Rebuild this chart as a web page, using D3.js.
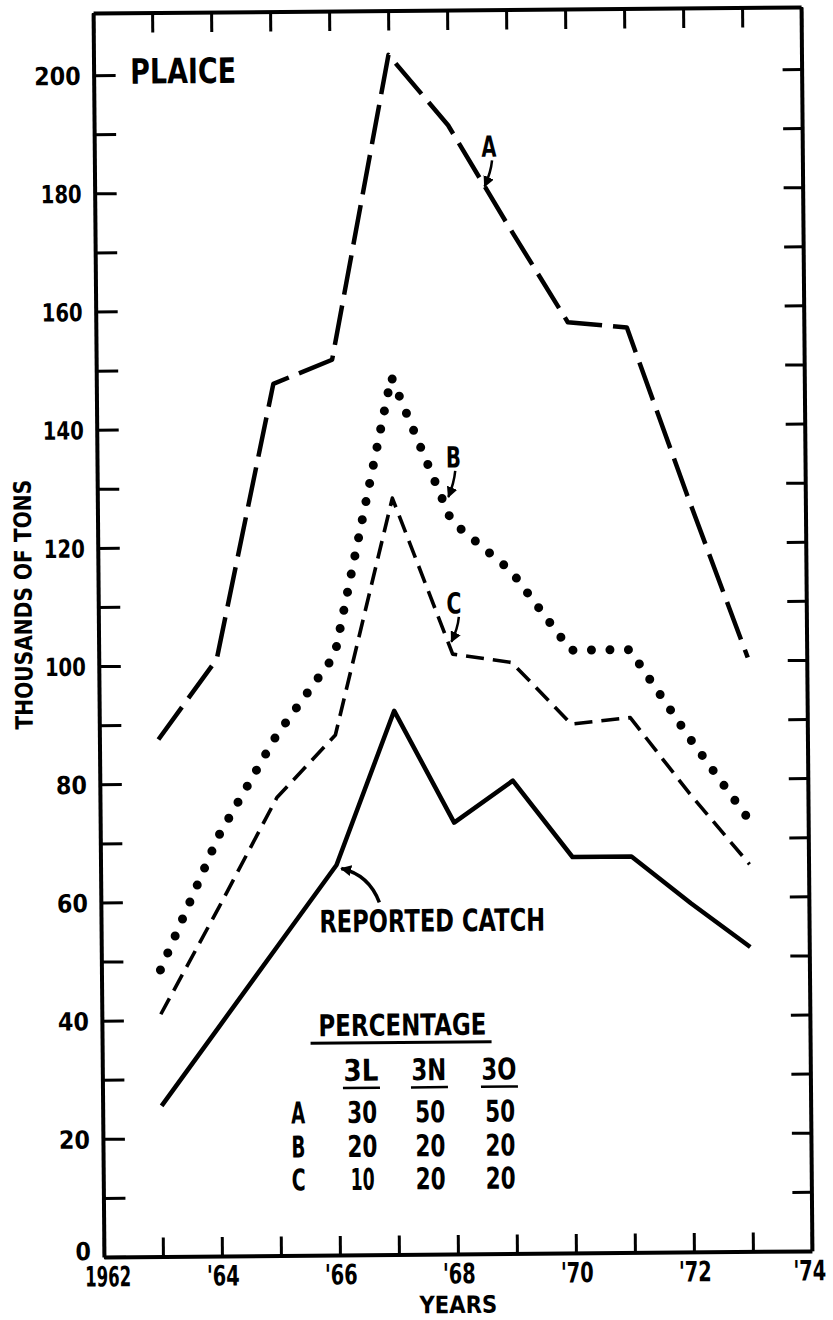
<!DOCTYPE html>
<html>
<head>
<meta charset="utf-8">
<script src="https://cdn.jsdelivr.net/npm/d3@7"></script>
<style>
  body { margin: 0; background: #fff; }
  text { font-family: "DejaVu Sans", "Liberation Sans", sans-serif; font-weight: bold; fill: #000; }
</style>
</head>
<body>
<svg id="chart" width="833" height="1320"></svg>
<script>
// Plaice catch estimates, thousands of tons, 1963-1973
const years = [1963, 1964, 1965, 1966, 1967, 1968, 1969, 1970, 1971, 1972, 1973];
const seriesA = [87.5, 101, 147.5, 151.5, 203, 191, 174, 157.5, 156.5, 128, 100.5];
const seriesB = [48.5, 71, 88, 101.5, 148.5, 124, 115.5, 102, 102, 87, 73];
const seriesC = [41, 59, 77.5, 88, 128, 101.5, 100, 89.5, 90.5, 77.5, 65.5];
const reportedCatch = [25.5, 39, 52.5, 66, 92, 73, 80, 67, 67, 59, 51.5];

const yTicks = [0, 10, 20, 30, 40, 50, 60, 70, 80, 90, 100, 110, 120, 130, 140, 150, 160, 170, 180, 190, 200];
const xTicks = [1962, 1963, 1964, 1965, 1966, 1967, 1968, 1969, 1970, 1971, 1972, 1973, 1974];
const xTickLabels = {1962: "1962", 1964: "'64", 1966: "'66", 1968: "'68", 1970: "'70", 1972: "'72", 1974: "'74"};

// percentage table
const legendCols = ["3L", "3N", "3O"];
const legendRows = ["A", "B", "C"];
const pctA = [30, 50, 50];
const pctB = [20, 20, 20];
const pctC = [10, 20, 20];

// the original lettering is narrow: squeeze a text sideways to the width it has there
function squeeze(sel, w) {
  sel.each(function() {
    const el = d3.select(this);
    const s = w / this.getComputedTextLength();
    const cx = +el.attr("x") || 0;
    const prev = el.attr("transform") || "";
    el.attr("transform", prev + " translate(" + cx + ",0) scale(" + s + ",1) translate(" + (-cx) + ",0)");
  });
}
function digitWidth(s, wide, narrow) {
  let w = 0;
  String(s).split("").forEach(function(ch) { w += (ch === "1" || ch === "'") ? narrow : wide; });
  return w;
}

const svg = d3.select("#chart");
// the scanned figure sits a little off square, so turn the whole drawing slightly
const g = svg.append("g").attr("transform", "rotate(-0.5 452 632)");

const x = d3.scaleLinear().domain([1962, 1974]).range([98.5, 806.5]);
const y = d3.scaleLinear().domain([0, 210.5]).range([1254, 10]);

// frame and ticks (all ticks point inward)
function styleAxis(sel) {
  sel.select(".domain").attr("stroke", "#000").attr("stroke-width", 4);
  sel.selectAll(".tick line").attr("stroke", "#000").attr("stroke-width", 3);
}

g.append("g")
  .attr("transform", "translate(" + x(1962) + ",0)")
  .call(d3.axisLeft(y).tickValues(yTicks).tickSize(-22).tickSizeOuter(0).tickPadding(13)
    .tickFormat(d => d % 20 === 0 ? d : ""))
  .call(styleAxis)
  .selectAll(".tick text")
    .filter(d => d % 20 === 0)
    .style("font-size", "25px")
    .attr("dy", d => d === 0 ? "0.1em" : "0.36em")
    .each(function(d) { d3.select(this).call(squeeze, digitWidth(d, 15.5, 10)); });

g.append("g")
  .attr("transform", "translate(" + x(1974) + ",0)")
  .call(d3.axisRight(y).tickValues(yTicks).tickSize(-19).tickSizeOuter(0).tickFormat(""))
  .call(styleAxis);

g.append("g")
  .attr("transform", "translate(0," + y(0) + ")")
  .call(d3.axisBottom(x).tickValues(xTicks).tickSize(-19).tickSizeOuter(0).tickPadding(7)
    .tickFormat(d => xTickLabels[d] || ""))
  .call(styleAxis)
  .selectAll(".tick text")
    .filter(d => xTickLabels[d])
    .style("font-size", "28px")
    .attr("dy", "0.8em")
    .attr("dx", d => d === 1962 ? 6 : (d === 1974 ? -4 : 1))
    .each(function(d) { d3.select(this).call(squeeze, digitWidth(xTickLabels[d], 13, 7)); });

g.append("g")
  .attr("transform", "translate(0," + y(210.5) + ")")
  .call(d3.axisTop(x).tickValues(xTicks).tickSize(-20).tickSizeOuter(0).tickFormat(""))
  .call(styleAxis);

// axis titles
g.append("text")
  .text("YEARS")
  .attr("x", x(1968)).attr("y", 1313)
  .attr("text-anchor", "middle")
  .style("font-size", "24px")
  .call(squeeze, 78);

g.append("text")
  .text("THOUSANDS OF TONS")
  .attr("transform", "translate(32," + y(110.5) + ") rotate(-90)")
  .attr("text-anchor", "middle")
  .style("font-size", "24px")
  .call(squeeze, 250);

g.append("text")
  .text("PLAICE")
  .attr("x", x(1962.62)).attr("y", y(198.5))
  .style("font-size", "35px")
  .call(squeeze, 106);

// the four lines
const line = d3.line()
  .x((d, i) => x(years[i]))
  .y(d => y(d));

const lines = [
  {values: seriesA, width: 4.5, dash: "40,11", cap: "butt"},
  {values: seriesB, width: 9, dash: "0,18.5", cap: "round"},
  {values: seriesC, width: 3.6, dash: "18,9", cap: "butt"},
  {values: reportedCatch, width: 4.5, dash: null, cap: "butt"}
];

g.append("g").selectAll("path")
  .data(lines)
  .join("path")
    .attr("d", d => line(d.values))
    .attr("fill", "none")
    .attr("stroke", "#000")
    .attr("stroke-width", d => d.width)
    .attr("stroke-dasharray", d => d.dash)
    .attr("stroke-linecap", d => d.cap)
    .attr("stroke-linejoin", "round");

// arrow labels
svg.append("defs").append("marker")
  .attr("id", "head")
  .attr("viewBox", "0 0 10 10")
  .attr("refX", 9).attr("refY", 5)
  .attr("markerWidth", 11).attr("markerHeight", 11)
  .attr("markerUnits", "userSpaceOnUse")
  .attr("orient", "auto")
  .append("path")
    .attr("d", "M0,0 L10,5 L0,10 Z")
    .attr("fill", "#000");

const labels = [
  {text: "A", lx: 1968.69, ly: 185.6, from: [1968.74, 185.0], ctrl: [1968.72, 183.0], to: [1968.61, 180.6]},
  {text: "B", lx: 1968.04, ly: 133.1, from: [1968.07, 132.5], ctrl: [1968.05, 130.5], to: [1967.95, 128.1]},
  {text: "C", lx: 1968.03, ly: 108.4, from: [1968.11, 107.8], ctrl: [1968.09, 105.8], to: [1967.98, 103.6]}
];

const ann = g.append("g");
labels.forEach(function(d) {
  ann.append("text")
    .text(d.text)
    .attr("x", x(d.lx)).attr("y", y(d.ly))
    .attr("text-anchor", "middle")
    .style("font-size", "29px")
    .call(squeeze, 15);
  ann.append("path")
    .attr("d", "M" + x(d.from[0]) + "," + y(d.from[1]) +
               " Q" + x(d.ctrl[0]) + "," + y(d.ctrl[1]) + " " + x(d.to[0]) + "," + y(d.to[1]))
    .attr("fill", "none").attr("stroke", "#000").attr("stroke-width", 2.5)
    .attr("marker-end", "url(#head)");
});

ann.append("text")
  .text("REPORTED CATCH")
  .attr("x", x(1965.7)).attr("y", y(54.6))
  .style("font-size", "31px")
  .call(squeeze, 226);
ann.append("path")
  .attr("d", "M" + x(1966.72) + "," + y(59.6) + " Q" + x(1966.55) + "," + y(64.3) + " " + x(1966.08) + "," + y(65.4))
  .attr("fill", "none").attr("stroke", "#000").attr("stroke-width", 3.5)
  .attr("marker-end", "url(#head)");

// percentage table
const table = g.append("g");
const colX = [358, 426, 496];
const rowY = [1122, 1156, 1189];
const tableFont = sel => sel.style("font-size", "30px").attr("text-anchor", "middle");

table.append("text").text("PERCENTAGE").attr("x", 399).attr("y", 1035).call(tableFont).call(squeeze, 168);
table.append("line").attr("x1", 307).attr("x2", 488).attr("y1", 1042).attr("y2", 1042)
  .attr("stroke", "#000").attr("stroke-width", 3);

legendCols.forEach(function(c, i) {
  table.append("text").text(c).attr("x", colX[i] - 1).attr("y", 1080).call(tableFont).call(squeeze, 35);
  table.append("line").attr("x1", colX[i] - 19).attr("x2", colX[i] + 18).attr("y1", 1087).attr("y2", 1087)
    .attr("stroke", "#000").attr("stroke-width", 2.5);
});

[pctA, pctB, pctC].forEach(function(row, r) {
  table.append("text").text(legendRows[r]).attr("x", 294).attr("y", rowY[r]).call(tableFont).call(squeeze, 14);
  row.forEach(function(v, i) {
    table.append("text").text(v).attr("x", colX[i]).attr("y", rowY[r]).call(tableFont)
      .call(squeeze, digitWidth(v, 15, 9));
  });
});
</script>
</body>
</html>
